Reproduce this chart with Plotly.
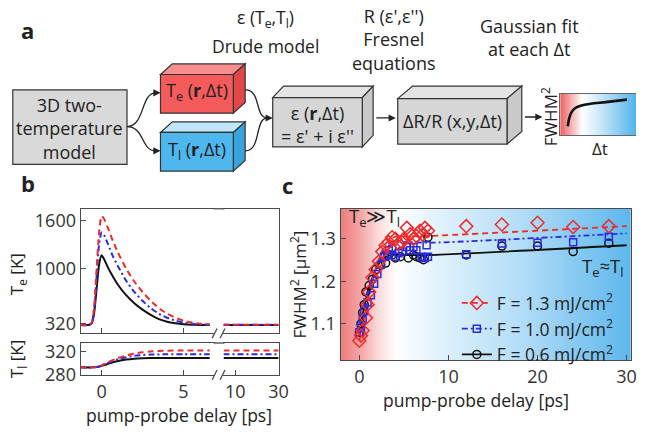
import plotly.graph_objects as go
import numpy as np

W, H = 646, 439
def PX(x): return x / W
def PY(y): return 1 - y / H

FONT = "Open Sans"
RED = "#f02a2a"
BLUE = "#2a2ae6"
BLACK = "#111111"
AX = "#4a4a4a"
TXT = "#222222"

# ---------------- panel b data ----------------
te_t = [-1.3, -0.8, -0.6, -0.45, -0.3, -0.15, 0.0, 0.15, 0.4, 0.7, 1.0, 1.5, 2.0, 2.5, 3.0, 3.5, 4.0, 4.5, 5.0, 5.5, 6.0, 6.6]
te_black = [300, 300, 320, 450, 750, 1050, 1165, 1120, 1010, 900, 800, 670, 570, 490, 425, 372, 340, 322, 310, 304, 301, 300]
te_blue = [300, 300, 325, 500, 900, 1300, 1450, 1420, 1300, 1150, 1030, 850, 710, 600, 510, 440, 390, 355, 330, 315, 307, 302]
te_red = [300, 300, 330, 520, 1000, 1450, 1650, 1620, 1500, 1340, 1200, 1000, 840, 710, 600, 510, 440, 390, 355, 330, 315, 308]
late_t = [4.5, 30]
te_late_black = [300, 300]
te_late_blue = [302, 302]
te_late_red = [304, 304]

tl_t = [-1.3, -0.5, -0.2, 0.0, 0.3, 0.6, 1.0, 1.5, 2.0, 2.5, 3.0, 4.0, 5.0, 6.6]
tl_black = [293, 293, 294, 295.5, 298, 301, 304, 306.5, 308, 308.7, 309, 309, 309, 309]
tl_blue = [293, 293, 294, 296, 299.5, 303, 307, 310.5, 312.8, 314.2, 315, 315.5, 315.5, 315.5]
tl_red = [293, 293, 294, 296.5, 300.5, 304.5, 309, 313.5, 316.8, 319, 320.5, 321.8, 322, 322]
tl_late_black = [309, 309]
tl_late_blue = [315.5, 315.5]
tl_late_red = [322, 322]

# ---------------- panel c data ----------------
t_red = [0.0, 0.18, 0.37, 0.74, 0.92, 1.1, 1.47, 1.84, 2.2, 2.57, 2.95, 3.3, 3.68, 4.05, 4.4, 4.78, 5.0, 5.33, 5.7, 6.07, 6.4, 6.8, 7.1, 7.36, 7.7, 12, 16, 20, 24, 28]
v_red = [1.060, 1.072, 1.084, 1.114, 1.145, 1.175, 1.209, 1.228, 1.247, 1.270, 1.285, 1.292, 1.304, 1.300, 1.289, 1.292, 1.300, 1.326, 1.311, 1.300, 1.307, 1.319, 1.310, 1.326, 1.319, 1.330, 1.334, 1.338, 1.328, 1.330]
t_blue = [0.0, 0.18, 0.37, 0.55, 0.92, 1.29, 1.66, 2.02, 2.4, 2.76, 3.1, 3.3, 3.68, 4.05, 4.4, 4.8, 5.33, 5.7, 6.07, 6.4, 7.0, 7.36, 7.55, 7.7, 12, 16, 20, 24, 28]
v_blue = [1.080, 1.090, 1.110, 1.130, 1.150, 1.167, 1.194, 1.217, 1.239, 1.258, 1.262, 1.273, 1.277, 1.258, 1.266, 1.270, 1.281, 1.273, 1.281, 1.273, 1.258, 1.255, 1.285, 1.258, 1.264, 1.289, 1.291, 1.292, 1.305]
t_black = [0.0, 0.18, 0.37, 0.55, 0.74, 1.1, 1.47, 1.84, 2.4, 2.95, 3.3, 3.68, 4.05, 4.6, 5.5, 6.07, 6.4, 6.8, 7.2, 7.7, 12, 16, 20, 24, 28]
v_black = [1.080, 1.100, 1.126, 1.145, 1.175, 1.190, 1.205, 1.228, 1.239, 1.243, 1.262, 1.262, 1.255, 1.258, 1.255, 1.262, 1.258, 1.255, 1.251, 1.304, 1.262, 1.283, 1.283, 1.270, 1.290]

fit_t = [0, 0.5, 1, 1.5, 2, 2.5, 3, 3.5, 4, 5, 8, 30]
fit_red = [1.06, 1.11, 1.16, 1.205, 1.24, 1.27, 1.29, 1.30, 1.305, 1.306, 1.307, 1.330]
fit_blue = [1.07, 1.12, 1.165, 1.205, 1.24, 1.265, 1.283, 1.292, 1.295, 1.293, 1.291, 1.313]
fit_black = [1.08, 1.135, 1.18, 1.21, 1.235, 1.25, 1.258, 1.262, 1.263, 1.262, 1.262, 1.285]

legend_names = ["F = 1.3 mJ/cm<sup>2</sup>", "F = 1.0 mJ/cm<sup>2</sup>", "F = 0.6 mJ/cm<sup>2</sup>"]

# thumbnail sketch curve (panel a)
thumb_x = [0.10, 0.12, 0.15, 0.20, 0.28, 0.40, 0.60, 0.88]
thumb_y = [0.22, 0.42, 0.56, 0.66, 0.72, 0.76, 0.80, 0.86]

fig = go.Figure()

DASH_R = "6px,4px"
DASH_B = "6px,3px,2px,3px"

# ---------- background gradients ----------
cs_c = [[0, '#ef7e7e'], [0.06, '#f4a3a3'], [0.13, '#fbdcdc'], [0.19, '#ffffff'],
        [0.32, '#e4f3fc'], [0.62, '#b3ddf8'], [1, '#5cb7ec']]
gx = np.linspace(-2.1, 30.5, 60)
gz = np.linspace(0, 1, 60)
fig.add_trace(go.Heatmap(x=gx, y=[1.0, 1.4], z=[gz, gz], colorscale=cs_c, showscale=False,
                         zsmooth='best', hoverinfo='skip', xaxis='x5', yaxis='y5', showlegend=False))
cs_t = [[0, '#ee6767'], [0.14, '#f6b0b0'], [0.28, '#ffffff'], [0.55, '#c2e5f9'], [1, '#4fb3ec']]
tx = np.linspace(0, 1, 30)
fig.add_trace(go.Heatmap(x=tx, y=[0, 1], z=[tx, tx], colorscale=cs_t, showscale=False,
                         zsmooth='best', hoverinfo='skip', xaxis='x6', yaxis='y6', showlegend=False))
fig.add_trace(go.Scatter(x=thumb_x, y=thumb_y, mode='lines', line=dict(color=BLACK, width=2.6, shape='spline'),
                         xaxis='x6', yaxis='y6', showlegend=False, hoverinfo='skip'))

# ---------- panel b ----------
def line(x, y, color, dash, xa, ya, w=2):
    fig.add_trace(go.Scatter(x=x, y=y, mode='lines', line=dict(color=color, dash=dash, width=w, shape='spline', smoothing=0.6),
                             xaxis=xa, yaxis=ya, showlegend=False, hoverinfo='skip'))

line(te_t, te_black, BLACK, 'solid', 'x', 'y')
line(te_t, te_blue, BLUE, DASH_B, 'x', 'y')
line(te_t, te_red, RED, DASH_R, 'x', 'y')
line(late_t, te_late_black, BLACK, 'solid', 'x2', 'y2')
line(late_t, te_late_blue, BLUE, DASH_B, 'x2', 'y2')
line(late_t, te_late_red, RED, DASH_R, 'x2', 'y2')
line(tl_t, tl_black, BLACK, 'solid', 'x3', 'y3')
line(tl_t, tl_blue, BLUE, DASH_B, 'x3', 'y3')
line(tl_t, tl_red, RED, DASH_R, 'x3', 'y3')
line(late_t, tl_late_black, BLACK, 'solid', 'x4', 'y4')
line(late_t, tl_late_blue, BLUE, DASH_B, 'x4', 'y4')
line(late_t, tl_late_red, RED, DASH_R, 'x4', 'y4')

# ---------- panel c ----------
line(fit_t, fit_black, BLACK, 'solid', 'x5', 'y5', 1.8)
line(fit_t, fit_blue, BLUE, DASH_B, 'x5', 'y5', 1.8)
line(fit_t, fit_red, RED, DASH_R, 'x5', 'y5', 1.8)
fig.add_trace(go.Scatter(x=t_black, y=v_black, mode='markers', marker=dict(symbol='circle-open', size=8, color=BLACK, line=dict(width=1.5)),
                         xaxis='x5', yaxis='y5', showlegend=False))
fig.add_trace(go.Scatter(x=t_blue, y=v_blue, mode='markers', marker=dict(symbol='square-open', size=7, color=BLUE, line=dict(width=1.5)),
                         xaxis='x5', yaxis='y5', showlegend=False))
fig.add_trace(go.Scatter(x=t_red, y=v_red, mode='markers', marker=dict(symbol='diamond-open', size=10, color=RED, line=dict(width=1.5)),
                         xaxis='x5', yaxis='y5', showlegend=False))
# legend entries
for nm, col, dash, sym, sz in zip(legend_names, [RED, BLUE, BLACK], [DASH_R, DASH_B, 'solid'],
                                  ['diamond-open', 'square-open', 'circle-open'], [10, 7, 8]):
    fig.add_trace(go.Scatter(x=[None], y=[None], mode='lines+markers', name=nm,
                             line=dict(color=col, dash=dash, width=1.8),
                             marker=dict(symbol=sym, size=sz, color=col, line=dict(width=1.5)),
                             xaxis='x5', yaxis='y5'))

# ---------- axes ----------
def ax(**kw):
    d = dict(showline=True, linecolor=AX, linewidth=1.3, ticks='inside', ticklen=5, tickcolor=AX,
             tickwidth=1.3, showgrid=False, zeroline=False,
             tickfont=dict(size=18, color='#333', family=FONT))
    d.update(kw)
    return d

BX_L = [PX(82), PX(218)]
BX_R = [PX(227), PX(283)]
BY_T = [PY(341), PY(212)]
BY_B = [PY(384), PY(351)]
fig.update_layout(
    xaxis=ax(domain=BX_L, anchor='y', range=[-1.27, 6.9], mirror=True, tickvals=[0, 5], showticklabels=False),
    yaxis=ax(domain=BY_T, anchor='x', range=[196, 1744], tickvals=[320, 1000, 1600]),
    xaxis2=ax(domain=BX_R, anchor='y2', range=[4.5, 30], mirror=True, tickvals=[], showticklabels=False),
    yaxis2=ax(domain=BY_T, anchor='x2', side='right', range=[196, 1744], ticks='', showticklabels=False),
    xaxis3=ax(domain=BX_L, anchor='y3', range=[-1.27, 6.9], mirror=True, tickvals=[0, 5], ticklabelstandoff=0),
    yaxis3=ax(domain=BY_B, anchor='x3', range=[280, 335], tickvals=[280, 320]),
    xaxis4=ax(domain=BX_R, anchor='y4', range=[4.5, 30], mirror=True, tickvals=[10, 30], ticklabelstandoff=0),
    yaxis4=ax(domain=BY_B, anchor='x4', side='right', range=[280, 335], ticks='', showticklabels=False),
    xaxis5=ax(domain=[PX(346), PX(641)], anchor='y5', range=[-2.1, 30.5], mirror=True, tickvals=[0, 10, 20, 30], ticklabelstandoff=0),
    yaxis5=ax(domain=[PY(369), PY(212)], anchor='x5', range=[1.0136, 1.371], mirror=True, tickvals=[1.1, 1.2, 1.3], tickformat='.1f'),
    xaxis6=ax(domain=[PX(569), 1.0], anchor='y6', range=[0, 1], mirror=True, ticks='', showticklabels=False, linewidth=1, linecolor='#666'),
    yaxis6=ax(domain=[PY(136), PY(93)], anchor='x6', range=[0, 1], ticks='', showticklabels=False, linewidth=1, linecolor='#666'),
)

# ---------- shapes ----------
shapes = []
def poly(points, fill, lc='#333', w=1.2):
    d = "M " + " L ".join(f"{PX(x):.5f},{PY(y):.5f}" for x, y in points) + " Z"
    return dict(type='path', path=d, xref='paper', yref='paper', fillcolor=fill, line=dict(color=lc, width=w), layer='above')

def box3d(x0, y0, x1, y1, dx, dy, front, top, side):
    return [poly([(x0, y0), (x0 + dx, y0 - dy), (x1 + dx, y0 - dy), (x1, y0)], top),
            poly([(x1, y0), (x1 + dx, y0 - dy), (x1 + dx, y1 - dy), (x1, y1)], side),
            poly([(x0, y0), (x1, y0), (x1, y1), (x0, y1)], front)]

def curve(p0, p1, p2, p3, w=1.3):
    pts = [p0, p1, p2, p3]
    s = [f"{PX(x):.5f},{PY(y):.5f}" for x, y in pts]
    return dict(type='path', path=f"M {s[0]} C {s[1]} {s[2]} {s[3]}", xref='paper', yref='paper',
                line=dict(color='#222', width=w), layer='above')

def seg(x0, y0, x1, y1, w=1.3, c=AX):
    return dict(type='line', x0=PX(x0), y0=PY(y0), x1=PX(x1), y1=PY(y1), xref='paper', yref='paper',
                line=dict(color=c, width=w), layer='above')

shapes.append(poly([(13, 89), (129, 89), (129, 166), (13, 166)], '#d9d9d9'))
shapes += box3d(163, 73, 237, 113, 12, 11, '#f65b5b', '#f88d8d', '#e24848')
shapes += box3d(163, 133, 237, 173, 12, 11, '#4db7ee', '#bfe6fa', '#39a3dd')
shapes += box3d(277, 97, 368, 148, 11, 12, '#d6d6d6', '#e4e4e4', '#c9c9c9')
shapes += box3d(404, 98, 515, 145, 15, 13, '#d6d6d6', '#e4e4e4', '#c9c9c9')
shapes.append(curve((129, 127), (147, 127), (143, 92), (158, 92)))
shapes.append(curve((129, 127), (147, 127), (143, 152), (158, 152)))
shapes.append(curve((249, 89), (266, 89), (258, 118), (272, 118)))
shapes.append(curve((249, 152), (266, 152), (258, 118), (272, 118)))
# break marks and top continuity for panel b
for yb in [341, 384]:
    for xb in [218, 226]:
        shapes.append(seg(xb - 2.5, yb + 5, xb + 2.5, yb - 5))
for yt in [212, 351]:
    shapes.append(seg(217, yt, 228, yt))
fig.update_layout(shapes=shapes)

# ---------- annotations ----------
ann = []
def text(x, y, s, size=18, angle=0, bold=False, xanchor='center'):
    if bold:
        s = f"<b>{s}</b>"
    ann.append(dict(x=PX(x), y=PY(y), xref='paper', yref='paper', text=s, showarrow=False,
                    font=dict(size=size, family=FONT, color=TXT), textangle=angle,
                    xanchor=xanchor, yanchor='middle'))

def arrow(xh, yh, axp, ayp=0):
    ann.append(dict(x=PX(xh), y=PY(yh), xref='paper', yref='paper', text='', showarrow=True,
                    ax=axp, ay=ayp, arrowhead=2, arrowsize=1.1, arrowwidth=1.3, arrowcolor='#222'))

text(28, 27, 'a', 22, bold=True)
text(28, 185, 'b', 22, bold=True)
text(292, 187, 'c', 22, bold=True)
text(270, 15, 'ε (T<sub>e</sub>,T<sub>l</sub>)', 17.5)
text(270, 43, 'Drude model', 17.5)
text(400, 37, "R (ε',ε'')<br>Fresnel<br>equations")
text(538, 35, 'Gaussian fit<br>at each Δt')
text(71, 129, '3D two-<br>temperature<br>model')
text(200, 91, 'T<sub>e</sub> (<b>r</b>,Δt)')
text(200, 152, 'T<sub>l</sub> (<b>r</b>,Δt)')
text(322, 125, "ε (<b>r</b>,Δt)<br>= ε' + i ε''")
text(460, 121, 'ΔR/R (x,y,Δt)')
text(558, 117, 'FWHM<sup>2</sup>', 17, angle=-90)
text(609, 150, 'Δt', 17)
arrow(163, 92, -7)
arrow(163, 152, -7)
arrow(277, 118, -7)
arrow(402, 118, -21)
arrow(551, 117, -19)

text(18, 280, 'T<sub>e</sub> [K]', 17, angle=-90)
text(18, 368, 'T<sub>l</sub> [K]', 17, angle=-90)
text(182, 426, 'pump-probe delay [ps]', 17.5)
text(483, 410, 'pump-probe delay [ps]', 17.5)
text(303, 290, 'FWHM<sup>2</sup> [µm<sup>2</sup>]', 17, angle=-90)
text(380, 221, 'T<sub>e</sub>≫T<sub>l</sub>', 18.5)
text(612, 272, 'T<sub>e</sub>≈T<sub>l</sub>', 18.5)

fig.update_layout(
    annotations=ann,
    width=W, height=H, margin=dict(l=0, r=0, t=0, b=0),
    paper_bgcolor='white', plot_bgcolor='rgba(0,0,0,0)',
    font=dict(family=FONT, color=TXT),
    showlegend=True,
    legend=dict(x=PX(464), y=PY(291), xanchor='left', yanchor='top', bgcolor='rgba(0,0,0,0)',
                font=dict(size=17.5, family=FONT, color=TXT), tracegroupgap=0, itemwidth=30),
)

fig.write_html("out.html", config={'displayModeBar': False})
